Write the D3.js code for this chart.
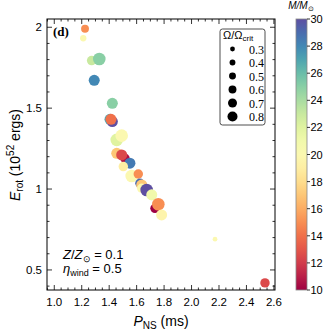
<!DOCTYPE html>
<html><head><meta charset="utf-8">
<script src="https://cdn.jsdelivr.net/npm/d3@7"></script>
<style>html,body{margin:0;padding:0;background:#fff;}</style>
</head><body>
<svg id="c" width="332" height="332"></svg>
<script>
// Data
const pns   = [1.224,1.211,1.272,1.328,1.291,1.423,1.406,1.423,1.413,1.455,1.491,1.455,1.515,1.491,1.551,1.503,1.564,1.612,1.624,1.637,1.637,1.673,1.710,1.734,1.758,1.782,2.171,2.535];
const erot  = [1.991,1.932,1.794,1.804,1.672,1.530,1.431,1.417,1.431,1.304,1.330,1.221,1.190,1.211,1.160,1.139,1.081,1.093,1.036,1.025,1.005,0.994,0.964,0.881,0.906,0.840,0.690,0.420];
const mass  = [15,20,23,25,28,25,27,30,14,22,20,17,10.5,12.5,28.5,19,20,15,29,17,20,30,21,10,15,19.5,20,12.5];
const omega = [0.5,0.4,0.6,0.8,0.7,0.7,0.7,0.7,0.7,0.8,0.8,0.7,0.6,0.7,0.7,0.6,0.8,0.6,0.6,0.7,0.6,0.8,0.7,0.6,0.8,0.7,0.3,0.6];
const xTicks = [1.0,1.2,1.4,1.6,1.8,2.0,2.2,2.4,2.6];
const yTicks = [0.5,1,1.5,2];
const cTicks = [10,12,14,16,18,20,22,24,26,28,30];
const legendOmega = [0.3,0.4,0.5,0.6,0.7,0.8];

const svg = d3.select('#c');
const L=47,R=275,T=19,B=290;
const x = d3.scaleLinear([0.947,2.608],[L,R]);
const y = d3.scaleLinear([0.376,2.051],[B,T]);
const col = d3.scaleSequential([10,30], d3.interpolateSpectral);
const rad = d3.scaleLinear([0,0.8],[0,6.3]);
const radLeg = d3.scaleLinear([0.3,0.8],[2.4,5.0]);

const sans = "'Liberation Sans', Arial, sans-serif";
const serif = "'Liberation Serif', 'Times New Roman', serif";

// points
const pts = pns.map((p,i)=>({p, e:erot[i], m:mass[i], o:omega[i]}));
svg.append('g').selectAll('circle').data(pts).join('circle')
  .attr('cx',d=>x(d.p)).attr('cy',d=>y(d.e)).attr('r',d=>rad(d.o))
  .attr('fill',d=>col(d.m));

// frame
svg.append('rect').attr('x',L).attr('y',T).attr('width',R-L).attr('height',B-T)
  .attr('fill','none').attr('stroke','#000').attr('stroke-width',1);

// ticks (inward)
const xMinor = d3.range(0.95,2.6001,0.05).filter(v=>!xTicks.some(t=>Math.abs(t-v)<1e-6));
const yMinor = d3.range(0.4,2.0501,0.1).filter(v=>!yTicks.some(t=>Math.abs(t-v)<1e-6));
const gAx = svg.append('g').attr('stroke','#000').attr('stroke-width',0.8);
function tk(g, arr, len, horiz){
  arr.forEach(v=>{
    if(horiz){
      const px=x(v);
      g.append('line').attr('x1',px).attr('x2',px).attr('y1',B).attr('y2',B-len);
      g.append('line').attr('x1',px).attr('x2',px).attr('y1',T).attr('y2',T+len);
    } else {
      const py=y(v);
      g.append('line').attr('y1',py).attr('y2',py).attr('x1',L).attr('x2',L+len);
      g.append('line').attr('y1',py).attr('y2',py).attr('x1',R).attr('x2',R-len);
    }
  });
}
tk(gAx,xTicks,5,true); tk(gAx,xMinor,2.5,true);
tk(gAx,yTicks,5,false); tk(gAx,yMinor,2.5,false);

// tick labels
svg.append('g').selectAll('text').data(xTicks).join('text')
  .attr('x',d=>x(d)).attr('y',B+16).attr('text-anchor','middle')
  .attr('font-family',sans).attr('font-size',11.5).text(d=>d.toFixed(1));
svg.append('g').selectAll('text').data(yTicks).join('text')
  .attr('x',L-5).attr('y',d=>y(d)+4).attr('text-anchor','end')
  .attr('font-family',sans).attr('font-size',11.5).text(d=>String(d));

// axis labels
const xl = svg.append('text').attr('x',161).attr('y',326).attr('text-anchor','middle')
  .attr('font-family',sans).attr('font-size',14);
xl.append('tspan').attr('font-style','italic').text('P');
xl.append('tspan').attr('font-size',10).attr('dy',3).text('NS');
xl.append('tspan').attr('dy',-3).text(' (ms)');

const yl = svg.append('text').attr('transform','translate(20,155) rotate(-90)').attr('text-anchor','middle')
  .attr('font-family',sans).attr('font-size',14);
yl.append('tspan').attr('font-style','italic').text('E');
yl.append('tspan').attr('font-size',10).attr('dy',3).text('rot');
yl.append('tspan').attr('dy',-3).text(' (10');
yl.append('tspan').attr('font-size',10).attr('dy',-6).text('52');
yl.append('tspan').attr('dy',6).text(' ergs)');

// panel label
svg.append('text').attr('x',53).attr('y',36).attr('font-family',serif).attr('font-weight','bold')
  .attr('font-size',13).text('(d)');

// annotations
const a1 = svg.append('text').attr('x',63).attr('y',259).attr('font-family',sans).attr('font-size',13);
a1.append('tspan').attr('font-style','italic').text('Z');
a1.append('tspan').text('/');
a1.append('tspan').attr('font-style','italic').text('Z');
a1.append('tspan').attr('font-size',9).attr('dy',3).text('⊙');
a1.append('tspan').attr('dy',-3).text(' = 0.1');
const a2 = svg.append('text').attr('x',63).attr('y',273).attr('font-family',sans).attr('font-size',13);
a2.append('tspan').attr('font-style','italic').text('η');
a2.append('tspan').attr('font-size',9).attr('dy',3).text('wind');
a2.append('tspan').attr('dy',-3).text(' = 0.5');

// legend
const lg = svg.append('g');
lg.append('rect').attr('x',220).attr('y',29).attr('width',45).attr('height',96).attr('rx',2.5)
  .attr('fill','#fff').attr('stroke','#222').attr('stroke-width',0.8);
const lt = lg.append('text').attr('x',223).attr('y',39).attr('font-family',sans).attr('font-size',11);
lt.append('tspan').text('Ω/Ω');
lt.append('tspan').attr('font-size',8).attr('dy',1.5).text('crit');
legendOmega.forEach((o,i)=>{
  const cy = 49 + i*13.5;
  lg.append('circle').attr('cx',232.5).attr('cy',cy).attr('r',radLeg(o)).attr('fill','#000');
  lg.append('text').attr('x',249).attr('y',cy+4.5).attr('font-family',serif).attr('font-size',12).text(o.toFixed(1));
});

// colorbar
const cbX=296, cbW=11;
const cy2 = d3.scaleLinear([10,30],[B,T]);
const grad = svg.append('defs').append('linearGradient').attr('id','cbg')
  .attr('x1',0).attr('y1',1).attr('x2',0).attr('y2',0);
d3.range(0,1.0001,0.05).forEach(t=>grad.append('stop').attr('offset',t).attr('stop-color',col(10+20*t)));
svg.append('rect').attr('x',cbX).attr('y',T).attr('width',cbW).attr('height',B-T).attr('fill','url(#cbg)')
  .attr('stroke','#888').attr('stroke-width',0.8);
const cg = svg.append('g');
cTicks.forEach(v=>{
  cg.append('line').attr('x1',cbX+cbW).attr('x2',cbX+cbW+3).attr('y1',cy2(v)).attr('y2',cy2(v))
    .attr('stroke','#000').attr('stroke-width',0.8);
  cg.append('text').attr('x',cbX+cbW+3.5).attr('y',cy2(v)+4).attr('font-family',sans)
    .attr('font-size',11).text(v);
});
const ct = svg.append('text').attr('x',301).attr('y',9).attr('text-anchor','middle')
  .attr('font-family',sans).attr('font-size',10).attr('font-style','italic');
ct.append('tspan').text('M/M');
ct.append('tspan').attr('font-size',7).attr('dy',2).attr('font-style','normal').text('⊙');
</script>
</body></html>
